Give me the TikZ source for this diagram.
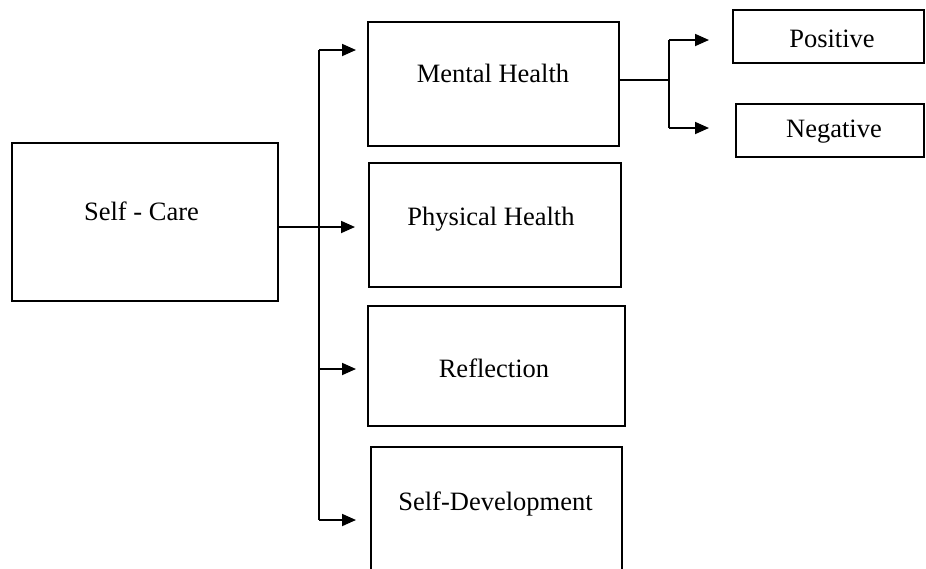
\documentclass[tikz,border=0pt]{standalone}
\usepackage{fontspec}
\setmainfont{Liberation Serif}
\usetikzlibrary{arrows.meta}
\begin{document}
\begin{tikzpicture}[x=1pt,y=-1pt,
  box/.style={draw=black,line width=2pt,rectangle,inner sep=0pt},
  lbl/.style={anchor=base,inner sep=0pt,font=\fontsize{26.5}{30}\selectfont},
  conn/.style={draw=black,line width=1.8pt},
  arr/.style={conn,-{Triangle[length=14pt,width=12pt]}}]
\useasboundingbox (0,0) rectangle (926,568);
\clip (0,0) rectangle (926,568);
% boxes
\node[box,minimum width=266pt,minimum height=158pt] (sc) at (145,222) {};
\node[box,minimum width=251pt,minimum height=124pt] (mh) at (493.5,84) {};
\node[box,minimum width=252pt,minimum height=124pt] (ph) at (495,225) {};
\node[box,minimum width=257pt,minimum height=120pt] (re) at (496.5,366) {};
\node[box,minimum width=251pt,minimum height=133pt] (sd) at (496.5,513.5) {};
\node[box,minimum width=191pt,minimum height=53pt] (pos) at (828.5,36.5) {};
\node[box,minimum width=188pt,minimum height=53pt] (neg) at (830,130.5) {};
% labels
\node[lbl] (tsc) at (141.5,220) {Self - Care};
\node[lbl] (tmh) at (493,82) {Mental Health};
\node[lbl] (tph) at (491,225) {Physical Health};
\node[lbl] (tre) at (494,377) {Reflection};
\node[lbl] (tsd) at (495.5,510) {Self-Development};
\node[lbl] (tpos) at (832,47) {Positive};
\node[lbl] (tneg) at (834,137) {Negative};
% trunk coordinates
\coordinate (t1) at (319,50);
\coordinate (t3) at (319,369);
\coordinate (t4) at (319,520);
\coordinate (s0) at (278,227);
\coordinate (b0) at (619,80);
\coordinate (bj) at (669,80);
\coordinate (b1) at (669,40);
\coordinate (b2) at (669,128);
% connectors
\draw[conn] (t1) -- (t4);
\draw[arr,shorten >=11pt] (t1) -- (mh.west |- t1);
\draw[arr,shorten >=13pt] (s0) -- (ph.west |- s0);
\draw[arr,shorten >=11pt] (t3) -- (re.west |- t3);
\draw[arr,shorten >=14pt] (t4) -- (sd.west |- t4);
\draw[conn] (b0) -- (bj);
\draw[conn] (b1) -- (b2);
\draw[arr,shorten >=23pt] (b1) -- (pos.west |- b1);
\draw[arr,shorten >=26pt] (b2) -- (neg.west |- b2);
\end{tikzpicture}
\end{document}
